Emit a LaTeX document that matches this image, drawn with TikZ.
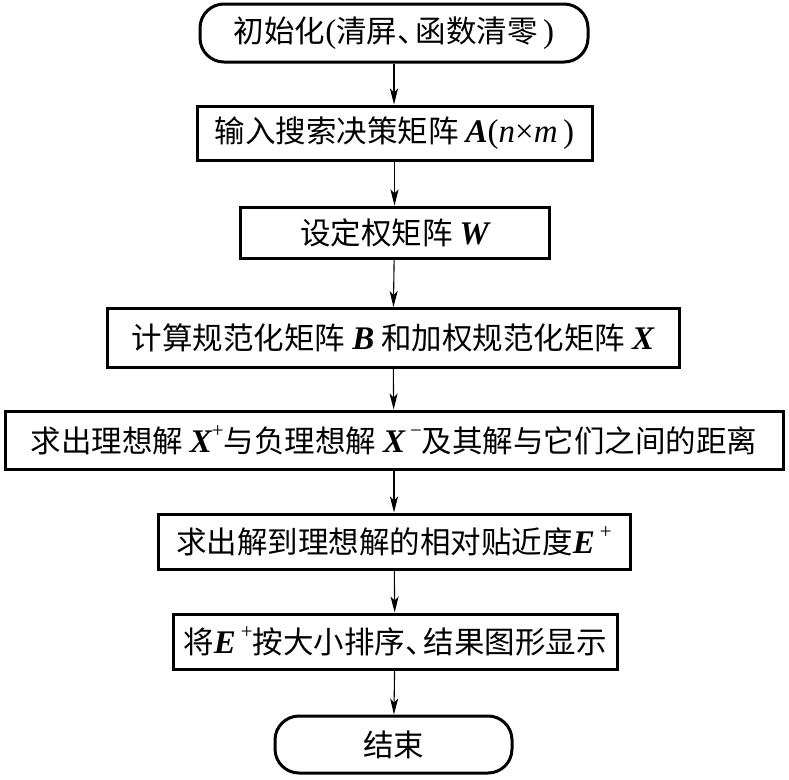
\documentclass[tikz,border=0pt]{standalone}
\usepackage{fontspec}
\setmainfont{Liberation Serif}
\newfontfamily\cjk{Noto Sans CJK SC}
\usetikzlibrary{arrows.meta}
\newcommand{\lat}{\rmfamily\fontsize{33}{33}\selectfont}
\newcommand{\bvar}[1]{{\lat\bfseries\itshape #1}}
\newcommand{\ivar}[1]{{\lat\itshape #1}}
\newcommand{\supsign}[1]{\raisebox{0.5em}{\rmfamily\fontsize{21}{21}\selectfont #1}}
\newcommand{\dun}{\makebox[0.6em][l]{、}}
\begin{document}
\begin{tikzpicture}[x=1pt,y=-1pt,
  box/.style={draw, line width=3pt, inner sep=0pt, font=\fontsize{30.5}{30.5}\selectfont\cjk},
  term/.style={box, rounded corners=24pt},
  flow/.style={line width=1.1pt, -{Stealth[length=16pt,width=8pt,inset=4pt]}}]
\useasboundingbox (0,0) rectangle (789,779);
\node[term, minimum width=388pt, minimum height=58pt] (n1) at (394,33) {初始化{\lat(}清屏\dun 函数清零{\lat\,)}};
\node[box, minimum width=395pt, minimum height=54pt] (n2) at (394.5,133) {输入搜索决策矩阵 \bvar{A}{\lat(\ivar{n}×\ivar{m}\,)}};
\node[box, minimum width=309pt, minimum height=51pt] (n3) at (394.5,232.5) {设定权矩阵 \bvar{W}};
\node[box, minimum width=572pt, minimum height=59pt] (n4) at (393,338) {计算规范化矩阵 \bvar{B} 和加权规范化矩阵 \bvar{X}};
\node[box, minimum width=778pt, minimum height=58pt] (n5) at (394,440) {求出理想解 \bvar{X}\supsign{+}与负理想解 \bvar{X}\,\supsign{−}及其解与它们之间的距离};
\node[box, minimum width=472pt, minimum height=55pt] (n6) at (394,541.5) {求出解到理想解的相对贴近度\bvar{E}\,\supsign{+}};
\node[box, minimum width=444pt, minimum height=55pt] (n7) at (395,641.5) {将\bvar{E}\,\supsign{+}按大小排序\dun 结果图形显示};
\node[term, minimum width=237pt, minimum height=57pt] (n8) at (393.5,744.5) {结束};
\draw[flow] (n1.south -| 394,0) -- (n2.north -| 394,0);
\draw[flow] (n2) -- (n3);
\draw[flow] (n3) -- (n4);
\draw[flow] (n4) -- (n5);
\draw[flow] (n5) -- (n6);
\draw[flow] (n6) -- (n7);
\draw[flow] (n7) -- (n8);
\end{tikzpicture}
\end{document}
